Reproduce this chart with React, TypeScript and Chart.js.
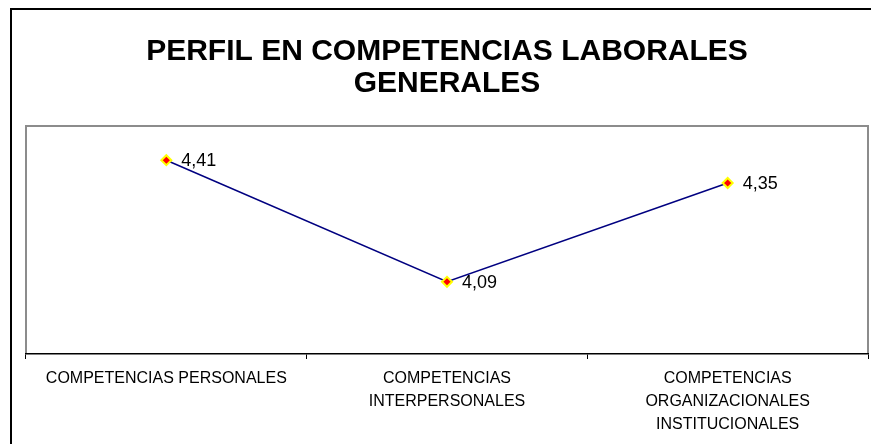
import React, { useEffect, useRef } from "react";
import { Chart, registerables } from "chart.js";

Chart.register(...registerables);

const titleLines = ["PERFIL EN COMPETENCIAS LABORALES", "GENERALES"];
const categories = [
  ["COMPETENCIAS PERSONALES"],
  ["COMPETENCIAS", "INTERPERSONALES"],
  ["COMPETENCIAS", "ORGANIZACIONALES", "INSTITUCIONALES"],
];
const values = [4.41, 4.09, 4.35];
const yMin = 3.9;
const yMax = 4.5;

const FONT = "'Liberation Sans', Arial, Helvetica, sans-serif";

const framePlugin = {
  id: "frame",
  beforeDraw(chart: any) {
    const { ctx, chartArea } = chart;
    ctx.save();
    ctx.fillStyle = "#ffffff";
    ctx.fillRect(0, 0, chart.width, chart.height);
    ctx.strokeStyle = "#000000";
    ctx.lineWidth = 2;
    ctx.beginPath();
    ctx.moveTo(11, chart.height);
    ctx.lineTo(11, 9);
    ctx.lineTo(chart.width, 9);
    ctx.stroke();
    ctx.strokeStyle = "#8c8c8c";
    ctx.lineWidth = 2;
    ctx.beginPath();
    ctx.moveTo(chartArea.left, chartArea.bottom);
    ctx.lineTo(chartArea.left, chartArea.top);
    ctx.lineTo(chartArea.right, chartArea.top);
    ctx.lineTo(chartArea.right, chartArea.bottom);
    ctx.stroke();
    ctx.restore();
  },
  afterDatasetsDraw(chart: any) {
    const { ctx } = chart;
    const meta = chart.getDatasetMeta(0);
    ctx.save();
    ctx.font = "18px " + FONT;
    ctx.fillStyle = "#000000";
    ctx.textAlign = "left";
    ctx.textBaseline = "middle";
    meta.data.forEach((pt: any, i: number) => {
      const v = chart.data.datasets[0].data[i] as number;
      ctx.fillText(v.toFixed(2).replace(".", ","), pt.x + 15, pt.y + 1);
    });
    ctx.restore();
  },
};

export default function App() {
  const ref = useRef<HTMLCanvasElement | null>(null);
  useEffect(() => {
    if (!ref.current) return;
    const chart = new Chart(ref.current, {
      type: "line",
      data: {
        labels: categories,
        datasets: [
          {
            data: values,
            borderColor: "#000080",
            borderWidth: 1.5,
            pointStyle: "rectRot",
            pointRadius: 5,
            pointBackgroundColor: "#ff0000",
            pointBorderColor: "#ffff00",
            pointBorderWidth: 2,
            tension: 0,
          },
        ],
      },
      options: {
        animation: false,
        responsive: false,
        layout: { autoPadding: false, padding: { left: 26, right: 3, top: 0, bottom: 0 } },
        plugins: {
          legend: { display: false },
          tooltip: { enabled: false },
          title: {
            display: true,
            text: titleLines,
            color: "#000000",
            font: { family: FONT, size: 30, weight: "bold", lineHeight: 1.05 },
            padding: { top: 36, bottom: 27 },
          },
        },
        scales: {
          x: {
            offset: true,
            afterFit(scale: any) {
              scale.paddingLeft = 0;
              scale.paddingRight = 0;
              scale.height = 90;
            },
            grid: {
              offset: true,
              drawOnChartArea: false,
              drawTicks: true,
              tickLength: 5,
              color: "#000000",
            },
            border: { color: "#000000", width: 1.5 },
            ticks: {
              color: "#000000",
              font: { family: FONT, size: 16, lineHeight: 1.45 },
              padding: 8,
              maxRotation: 0,
              autoSkip: false,
            },
          },
          y: {
            display: false,
            min: yMin,
            max: yMax,
          },
        },
      },
      plugins: [framePlugin],
    });
    return () => chart.destroy();
  }, []);
  return (
    <div style={{ position: "absolute", left: 0, top: 0, width: 871, height: 444 }}>
      <canvas ref={ref} width={871} height={444} />
    </div>
  );
}
